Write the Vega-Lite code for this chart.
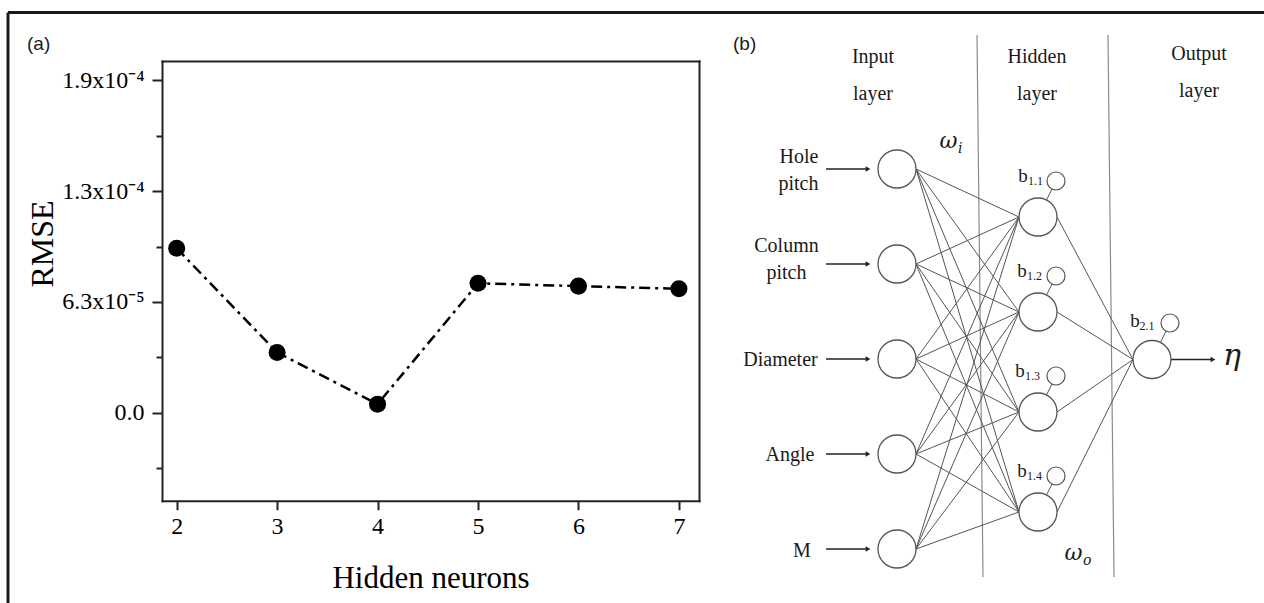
{
  "$schema": "https://vega.github.io/schema/vega-lite/v6.json",
  "width": 1264,
  "height": 603,
  "autosize": {"type": "none"},
  "padding": 0,
  "background": "white",
  "config": {"view": {"stroke": null}, "axis": {"grid": false}},
  "datasets": {
    "rmse": [
      {"neurons": 2, "rmse": 0.0000935},
      {"neurons": 3, "rmse": 0.0000343},
      {"neurons": 4, "rmse": 0.0000049},
      {"neurons": 5, "rmse": 0.0000736},
      {"neurons": 6, "rmse": 0.000072},
      {"neurons": 7, "rmse": 0.0000705}
    ],
    "frame": [
      {"x": 0.8, "y": 1.25, "x2": 126.4, "y2": 1.25},
      {"x": 0.8, "y": 1.25, "x2": 0.8, "y2": 60.3}
    ],
    "dividers": [
      {"x": 97.7, "y": 3.5, "x2": 98.3, "y2": 57.7},
      {"x": 110.8, "y": 3.5, "x2": 111.4, "y2": 57.7}
    ],
    "edges": [
      {"x": 91.6, "y": 16.9, "x2": 101.9, "y2": 21.7},
      {"x": 91.6, "y": 16.9, "x2": 101.9, "y2": 31.2},
      {"x": 91.6, "y": 16.9, "x2": 101.9, "y2": 41.2},
      {"x": 91.6, "y": 16.9, "x2": 101.9, "y2": 51.2},
      {"x": 91.6, "y": 26.4, "x2": 101.9, "y2": 21.7},
      {"x": 91.6, "y": 26.4, "x2": 101.9, "y2": 31.2},
      {"x": 91.6, "y": 26.4, "x2": 101.9, "y2": 41.2},
      {"x": 91.6, "y": 26.4, "x2": 101.9, "y2": 51.2},
      {"x": 91.6, "y": 35.9, "x2": 101.9, "y2": 21.7},
      {"x": 91.6, "y": 35.9, "x2": 101.9, "y2": 31.2},
      {"x": 91.6, "y": 35.9, "x2": 101.9, "y2": 41.2},
      {"x": 91.6, "y": 35.9, "x2": 101.9, "y2": 51.2},
      {"x": 91.6, "y": 45.4, "x2": 101.9, "y2": 21.7},
      {"x": 91.6, "y": 45.4, "x2": 101.9, "y2": 31.2},
      {"x": 91.6, "y": 45.4, "x2": 101.9, "y2": 41.2},
      {"x": 91.6, "y": 45.4, "x2": 101.9, "y2": 51.2},
      {"x": 91.6, "y": 54.9, "x2": 101.9, "y2": 21.7},
      {"x": 91.6, "y": 54.9, "x2": 101.9, "y2": 31.2},
      {"x": 91.6, "y": 54.9, "x2": 101.9, "y2": 41.2},
      {"x": 91.6, "y": 54.9, "x2": 101.9, "y2": 51.2},
      {"x": 105.7, "y": 21.7, "x2": 113.3, "y2": 35.95},
      {"x": 105.7, "y": 31.2, "x2": 113.3, "y2": 35.95},
      {"x": 105.7, "y": 41.2, "x2": 113.3, "y2": 35.95},
      {"x": 105.7, "y": 51.2, "x2": 113.3, "y2": 35.95},
      {"x": 103.8, "y": 21.7, "x2": 105.6, "y2": 18.1},
      {"x": 103.8, "y": 31.2, "x2": 105.6, "y2": 27.6},
      {"x": 103.8, "y": 41.2, "x2": 105.6, "y2": 37.6},
      {"x": 103.8, "y": 51.2, "x2": 105.6, "y2": 47.6},
      {"x": 115.2, "y": 35.95, "x2": 117.0, "y2": 32.3}
    ],
    "shafts": [
      {"x": 82.6, "y": 16.9, "x2": 86.7, "y2": 16.9},
      {"x": 82.6, "y": 26.4, "x2": 86.7, "y2": 26.4},
      {"x": 82.6, "y": 35.9, "x2": 86.7, "y2": 35.9},
      {"x": 82.6, "y": 45.4, "x2": 86.7, "y2": 45.4},
      {"x": 82.6, "y": 54.9, "x2": 86.7, "y2": 54.9},
      {"x": 117.1, "y": 35.95, "x2": 121.2, "y2": 35.95}
    ],
    "heads": [
      {"x": 86.8, "y": 16.9},
      {"x": 86.8, "y": 26.4},
      {"x": 86.8, "y": 35.9},
      {"x": 86.8, "y": 45.4},
      {"x": 86.8, "y": 54.9},
      {"x": 121.3, "y": 35.95}
    ],
    "nodes": [
      {"x": 89.7, "y": 16.9}, {"x": 89.7, "y": 26.4}, {"x": 89.7, "y": 35.9},
      {"x": 89.7, "y": 45.4}, {"x": 89.7, "y": 54.9},
      {"x": 103.8, "y": 21.7}, {"x": 103.8, "y": 31.2}, {"x": 103.8, "y": 41.2},
      {"x": 103.8, "y": 51.2},
      {"x": 115.2, "y": 35.95}
    ],
    "bias": [
      {"x": 105.6, "y": 18.1}, {"x": 105.6, "y": 27.6}, {"x": 105.6, "y": 37.6},
      {"x": 105.6, "y": 47.6}, {"x": 117.0, "y": 32.3}
    ],
    "headers": [
      {"t": "Input", "x": 87.3, "y": 6.3},
      {"t": "layer", "x": 87.3, "y": 10.0},
      {"t": "Hidden", "x": 103.7, "y": 6.3},
      {"t": "layer", "x": 103.7, "y": 10.0},
      {"t": "Output", "x": 119.9, "y": 6.0},
      {"t": "layer", "x": 119.9, "y": 9.7},
      {"t": "Hole", "x": 79.9, "y": 16.3},
      {"t": "pitch", "x": 79.85, "y": 19.0},
      {"t": "Column", "x": 78.65, "y": 25.2},
      {"t": "pitch", "x": 78.65, "y": 27.9},
      {"t": "Diameter", "x": 78.05, "y": 36.6},
      {"t": "Angle", "x": 79.0, "y": 46.1},
      {"t": "M", "x": 80.2, "y": 55.7}
    ],
    "bnames": [
      {"t": "b", "x": 102.3, "y": 18.2},
      {"t": "b", "x": 102.2, "y": 27.7},
      {"t": "b", "x": 102.0, "y": 37.7},
      {"t": "b", "x": 102.2, "y": 47.7},
      {"t": "b", "x": 113.5, "y": 32.7}
    ],
    "bsubs": [
      {"t": "1.1", "x": 102.8, "y": 18.5},
      {"t": "1.2", "x": 102.7, "y": 28.0},
      {"t": "1.3", "x": 102.5, "y": 38.0},
      {"t": "1.4", "x": 102.7, "y": 48.0},
      {"t": "2.1", "x": 113.95, "y": 33.0}
    ],
    "greek": [
      {"t": "ω", "x": 94.85, "y": 14.8},
      {"t": "ω", "x": 107.35, "y": 56.0}
    ],
    "greeksubs": [
      {"t": "i", "x": 95.8, "y": 15.3},
      {"t": "o", "x": 108.3, "y": 56.5}
    ],
    "eta": [
      {"t": "η", "x": 123.2, "y": 36.5}
    ],
    "panels": [
      {"t": "(a)", "x": 2.7, "y": 5.0},
      {"t": "(b)", "x": 73.3, "y": 5.0}
    ]
  },
  "layer": [
    {
      "data": {"name": "rmse"},
      "layer": [
        {
          "mark": {"type": "line", "color": "black", "strokeWidth": 2.5, "strokeDash": [11, 5, 3, 5]},
          "encoding": {
            "x": {
              "field": "neurons", "type": "quantitative",
              "scale": {"domain": [1.854, 7.2], "range": [162, 699], "nice": false, "zero": false},
              "axis": {
                "orient": "bottom", "offset": -102.3, "values": [2, 3, 4, 5, 6, 7], "format": "d",
                "title": "Hidden neurons", "titleFont": "Liberation Serif", "titleFontSize": 31,
                "titleFontWeight": "normal", "titleColor": "black", "titleBaseline": "alphabetic", "titleY": 86.3,
                "labelFont": "Liberation Serif", "labelFontSize": 24, "labelColor": "black", "labelPadding": 5,
                "labelFlush": false, "labelOverlap": false,
                "tickSize": 9, "tickWidth": 2, "tickColor": "#222",
                "domainColor": "#222", "domainWidth": 2, "domainCap": "square"
              }
            },
            "y": {
              "field": "rmse", "type": "quantitative",
              "scale": {"domain": [-0.00005, 0.0002], "range": [500.7, 61], "nice": false, "zero": false},
              "axis": {
                "orient": "left", "offset": -162,
                "values": [-0.0000315, 0, 0.0000315, 0.000063, 0.0000945, 0.000126, 0.0001575, 0.000189],
                "labelExpr": "datum.value == 0 ? '0.0' : datum.value == 0.000063 ? '6.3x10⁻⁵' : datum.value == 0.000126 ? '1.3x10⁻⁴' : datum.value == 0.000189 ? '1.9x10⁻⁴' : ''",
                "tickSize": {"condition": {"test": "datum.value == 0 || datum.value == 0.000063 || datum.value == 0.000126 || datum.value == 0.000189", "value": 10}, "value": 6},
                "tickWidth": 2, "tickColor": "#222",
                "labelFont": "Liberation Serif", "labelFontSize": 24, "labelColor": "black", "labelPadding": 8,
                "labelFlush": false, "labelOverlap": false,
                "title": "RMSE", "titleFont": "Liberation Serif", "titleFontSize": 32, "titleFontWeight": "normal",
                "titleColor": "black", "titleAngle": -90, "titleX": -110, "titleY": 243.5,
                "titleAlign": "center", "titleBaseline": "alphabetic",
                "domainColor": "#222", "domainWidth": 2, "domainCap": "square"
              }
            }
          }
        },
        {
          "mark": {"type": "point", "shape": "circle", "filled": true, "color": "black", "size": 290, "opacity": 1},
          "encoding": {
            "x": {
              "field": "neurons", "type": "quantitative",
              "axis": {"orient": "top", "offset": -61, "labels": false, "ticks": false, "title": null,
                       "domainColor": "#222", "domainWidth": 2, "domainCap": "square"}
            },
            "y": {
              "field": "rmse", "type": "quantitative",
              "axis": {"orient": "right", "offset": -565, "labels": false, "ticks": false, "title": null,
                       "domainColor": "#222", "domainWidth": 2, "domainCap": "square"}
            }
          }
        }
      ],
      "resolve": {"axis": {"x": "independent", "y": "independent"}}
    },
    {
      "layer": [
        {
          "data": {"name": "frame"},
          "mark": {"type": "rule", "color": "#1a1a1a", "strokeWidth": 3},
          "encoding": {
            "x": {"field": "x", "type": "quantitative", "scale": {"domain": [0, 126.4], "nice": false, "zero": false}, "axis": null},
            "y": {"field": "y", "type": "quantitative", "scale": {"domain": [0, 60.3], "reverse": true, "nice": false, "zero": false}, "axis": null},
            "x2": {"field": "x2"},
            "y2": {"field": "y2"}
          }
        },
        {
          "data": {"name": "dividers"},
          "mark": {"type": "rule", "color": "#8a8a8a", "strokeWidth": 1.2},
          "encoding": {
            "x": {"field": "x", "type": "quantitative", "axis": null},
            "y": {"field": "y", "type": "quantitative", "axis": null},
            "x2": {"field": "x2"},
            "y2": {"field": "y2"}
          }
        },
        {
          "data": {"name": "edges"},
          "mark": {"type": "rule", "color": "#555555", "strokeWidth": 1},
          "encoding": {
            "x": {"field": "x", "type": "quantitative", "axis": null},
            "y": {"field": "y", "type": "quantitative", "axis": null},
            "x2": {"field": "x2"},
            "y2": {"field": "y2"}
          }
        },
        {
          "data": {"name": "shafts"},
          "mark": {"type": "rule", "color": "#222222", "strokeWidth": 1.3},
          "encoding": {
            "x": {"field": "x", "type": "quantitative", "axis": null},
            "y": {"field": "y", "type": "quantitative", "axis": null},
            "x2": {"field": "x2"},
            "y2": {"field": "y2"}
          }
        },
        {
          "data": {"name": "heads"},
          "mark": {"type": "point", "shape": "triangle-right", "filled": true, "color": "#222222", "size": 30, "opacity": 1},
          "encoding": {
            "x": {"field": "x", "type": "quantitative", "axis": null},
            "y": {"field": "y", "type": "quantitative", "axis": null}
          }
        },
        {
          "data": {"name": "nodes"},
          "mark": {"type": "point", "shape": "circle", "filled": true, "fill": "white", "stroke": "#555555", "strokeWidth": 1.3, "size": 1444, "opacity": 1},
          "encoding": {
            "x": {"field": "x", "type": "quantitative", "axis": null},
            "y": {"field": "y", "type": "quantitative", "axis": null}
          }
        },
        {
          "data": {"name": "bias"},
          "mark": {"type": "point", "shape": "circle", "filled": true, "fill": "white", "stroke": "#555555", "strokeWidth": 1.2, "size": 324, "opacity": 1},
          "encoding": {
            "x": {"field": "x", "type": "quantitative", "axis": null},
            "y": {"field": "y", "type": "quantitative", "axis": null}
          }
        },
        {
          "data": {"name": "headers"},
          "mark": {"type": "text", "font": "Liberation Serif", "fontSize": 20, "align": "center", "baseline": "alphabetic", "color": "#1a1a1a"},
          "encoding": {
            "x": {"field": "x", "type": "quantitative", "axis": null},
            "y": {"field": "y", "type": "quantitative", "axis": null},
            "text": {"field": "t"}
          }
        },
        {
          "data": {"name": "bnames"},
          "mark": {"type": "text", "font": "Liberation Serif", "fontSize": 19, "align": "center", "baseline": "alphabetic", "color": "#1a1a1a"},
          "encoding": {
            "x": {"field": "x", "type": "quantitative", "axis": null},
            "y": {"field": "y", "type": "quantitative", "axis": null},
            "text": {"field": "t"}
          }
        },
        {
          "data": {"name": "bsubs"},
          "mark": {"type": "text", "font": "Liberation Serif", "fontSize": 12, "align": "left", "baseline": "alphabetic", "color": "#1a1a1a"},
          "encoding": {
            "x": {"field": "x", "type": "quantitative", "axis": null},
            "y": {"field": "y", "type": "quantitative", "axis": null},
            "text": {"field": "t"}
          }
        },
        {
          "data": {"name": "greek"},
          "mark": {"type": "text", "font": "DejaVu Serif", "fontSize": 22, "fontStyle": "italic", "align": "center", "baseline": "alphabetic", "color": "#1a1a1a"},
          "encoding": {
            "x": {"field": "x", "type": "quantitative", "axis": null},
            "y": {"field": "y", "type": "quantitative", "axis": null},
            "text": {"field": "t"}
          }
        },
        {
          "data": {"name": "greeksubs"},
          "mark": {"type": "text", "font": "DejaVu Serif", "fontSize": 14, "fontStyle": "italic", "align": "left", "baseline": "alphabetic", "color": "#1a1a1a"},
          "encoding": {
            "x": {"field": "x", "type": "quantitative", "axis": null},
            "y": {"field": "y", "type": "quantitative", "axis": null},
            "text": {"field": "t"}
          }
        },
        {
          "data": {"name": "eta"},
          "mark": {"type": "text", "font": "DejaVu Serif", "fontSize": 30, "fontStyle": "italic", "align": "center", "baseline": "alphabetic", "color": "#1a1a1a"},
          "encoding": {
            "x": {"field": "x", "type": "quantitative", "axis": null},
            "y": {"field": "y", "type": "quantitative", "axis": null},
            "text": {"field": "t"}
          }
        },
        {
          "data": {"name": "panels"},
          "mark": {"type": "text", "font": "Liberation Sans", "fontSize": 19, "align": "left", "baseline": "alphabetic", "color": "#1a1a1a"},
          "encoding": {
            "x": {"field": "x", "type": "quantitative", "axis": null},
            "y": {"field": "y", "type": "quantitative", "axis": null},
            "text": {"field": "t"}
          }
        }
      ]
    }
  ],
  "resolve": {"scale": {"x": "independent", "y": "independent"}, "axis": {"x": "independent", "y": "independent"}}
}
